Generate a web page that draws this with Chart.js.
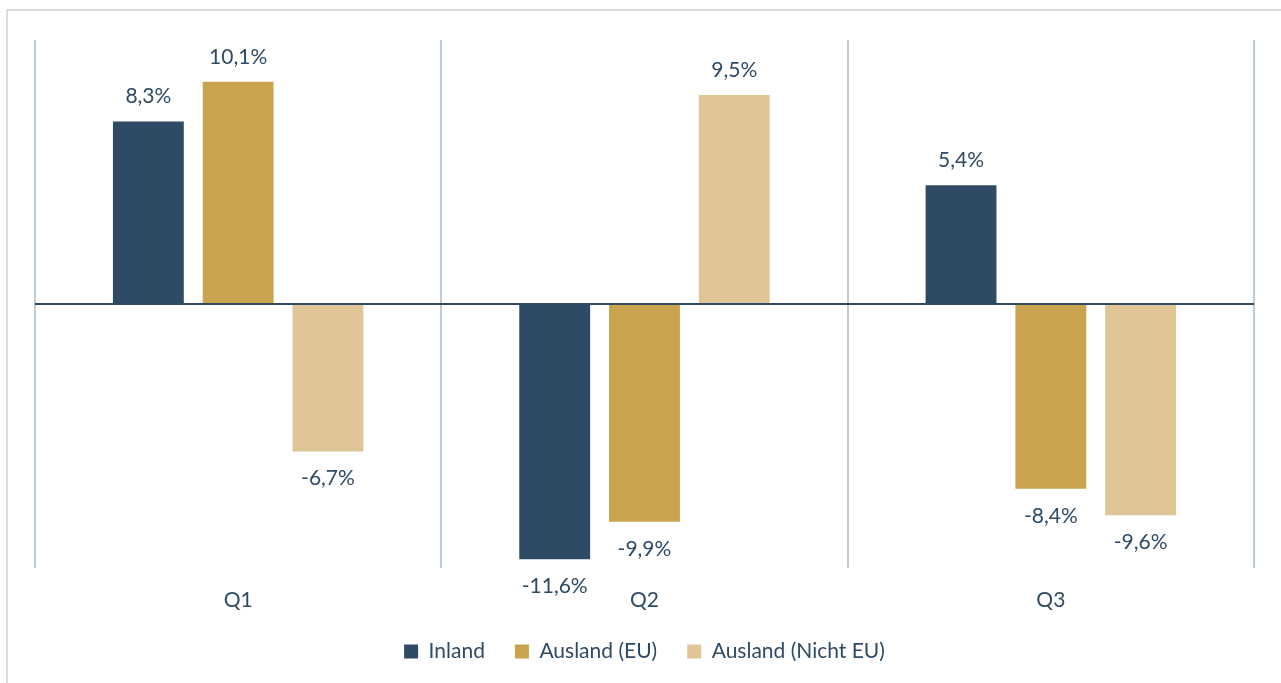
<!DOCTYPE html>
<html>
<head>
<meta charset="utf-8">
<script src="https://cdn.jsdelivr.net/npm/chart.js@4"></script>
<style>
  html, body { margin: 0; padding: 0; background: #ffffff; overflow: hidden; }
  #frame {
    position: absolute; left: 6px; top: 9px; width: 1290px; height: 700px;
    border: 2px solid #dcdcdc; box-sizing: border-box;
  }
  #box { position: absolute; left: 0; top: 0; width: 1281px; height: 683px; }
</style>
</head>
<body>
<div id="frame"></div>
<div id="box"><canvas id="chart"></canvas></div>
<script>
// categories and series
const quarters = ["Q1", "Q2", "Q3"];
const inland = [8.3, -11.6, 5.4];
const auslandEU = [10.1, -9.9, -8.4];
const auslandNichtEU = [-6.7, 9.5, -9.6];
const seriesNames = ["Inland", "Ausland (EU)", "Ausland (Nicht EU)"];
const seriesColors = ["#2e4a65", "#c9a34d", "#e0c596"];

const textColor = "#2e4a65";
const fontFamily = "Lato, 'Open Sans', sans-serif";

//draws the value above / below each bar
const valueLabels = {
  id: "valueLabels",
  afterDatasetsDraw(chart) {
    const ctx = chart.ctx;
    ctx.save();
    ctx.font = "21px " + fontFamily;
    ctx.fillStyle = textColor;
    ctx.textAlign = "center";
    ctx.textBaseline = "middle";
    chart.data.datasets.forEach((ds, i) => {
      chart.getDatasetMeta(i).data.forEach((bar, j) => {
        const v = ds.data[j];
        const txt = v.toFixed(1).replace(".", ",") + "%";
        const y = v >= 0 ? bar.y - 25 : bar.y + 27;
        ctx.fillText(txt, bar.x, y);
      });
    });
    ctx.restore();
  }
};

new Chart(document.getElementById("chart"), {
  type: "bar",
  plugins: [valueLabels],
  data: {
    labels: quarters,
    datasets: [
      { label: seriesNames[0], data: inland, backgroundColor: seriesColors[0] },
      { label: seriesNames[1], data: auslandEU, backgroundColor: seriesColors[1] },
      { label: seriesNames[2], data: auslandNichtEU, backgroundColor: seriesColors[2] },
    ],
  },
  options: {
    responsive: true,
    maintainAspectRatio: false,
    animation: false,
    categoryPercentage: 0.663,
    barPercentage: 0.789,
    layout: { padding: { left: 35, right: 27, top: 40, bottom: 11 } },
    plugins: {
      tooltip: { enabled: false },
      legend: {
        position: "bottom",
        labels: {
          color: textColor,
          font: { family: fontFamily, size: 21 },
          boxWidth: 14,
          boxHeight: 14,
          padding: 30,
        },
      },
    },
    scales: {
      x: {
        offset: true,
        grid: { offset: true, color: "#bccbda", lineWidth: 2, drawTicks: false },
        border: { display: false },
        ticks: { color: textColor, font: { family: fontFamily, size: 21 }, padding: 20 },
        afterFit: (scale) => { scale.height = 43; },
      },
      y: {
        min: -12,
        max: 12,
        grid: {
          drawTicks: false,
          color: (c) => (c.tick && c.tick.value === 0 ? "#2e4a65" : "rgba(0,0,0,0)"),
          lineWidth: 2,
        },
        border: { display: false },
        ticks: { display: false, stepSize: 4 },
      },
    },
  },
});
</script>
</body>
</html>
